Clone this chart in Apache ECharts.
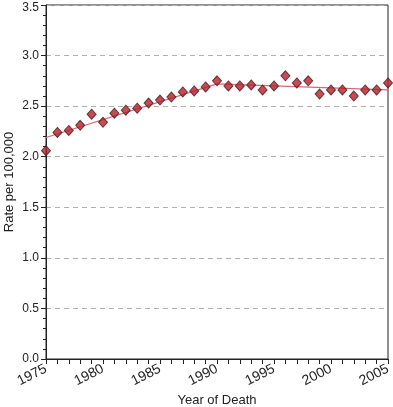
<!DOCTYPE html>
<html>
<head>
<meta charset="utf-8">
<script src="https://cdn.jsdelivr.net/npm/echarts@6/dist/echarts.min.js"></script>
<style>
html,body{margin:0;padding:0;background:#fff;}
#chart{width:393px;height:407px;}
</style>
</head>
<body>
<div id="chart"></div>
<script>
const years = [1975,1976,1977,1978,1979,1980,1981,1982,1983,1984,1985,1986,1987,1988,1989,1990,1991,1992,1993,1994,1995,1996,1997,1998,1999,2000,2001,2002,2003,2004,2005];
const rates = [2.06,2.24,2.26,2.31,2.42,2.34,2.43,2.46,2.48,2.53,2.56,2.59,2.64,2.65,2.69,2.75,2.70,2.70,2.71,2.66,2.70,2.80,2.73,2.75,2.62,2.66,2.66,2.60,2.66,2.66,2.73];
const trendYears = [1975,1990,2005];
const trendRates = [2.19,2.72,2.66];
const xTickLabels = ['1975','1980','1985','1990','1995','2000','2005'];

const chart = echarts.init(document.getElementById('chart'), null, {renderer:'canvas'});
const font = 'Liberation Sans, Arial, sans-serif';
chart.setOption({
  animation:false,
  backgroundColor:'#fff',
  grid:{left:46,right:5,top:5,bottom:48,containLabel:false,outerBoundsMode:'none',show:true,borderColor:'#222',borderWidth:1,backgroundColor:'transparent'},
  xAxis:{
    type:'value',min:1975,max:2005,interval:5,
    name:'Year of Death',nameLocation:'middle',nameGap:35,nameMoveOverlap:false,
    nameTextStyle:{fontFamily:font,fontSize:13,color:'#222'},
    axisLine:{show:true,lineStyle:{color:'#222',width:1}},
    axisTick:{show:true,length:5,inside:false,lineStyle:{color:'#222'}},
    minorTick:{show:true,splitNumber:5,length:5,lineStyle:{color:'#222'}},
    splitLine:{show:false},
    axisLabel:{fontFamily:font,fontSize:14,color:'#222',rotate:27,margin:9,
      formatter:function(v){const s=String(v);return xTickLabels.indexOf(s)>=0?s:'';}}
  },
  yAxis:{
    type:'value',min:0,max:3.5,interval:0.5,
    name:'Rate per 100,000',nameLocation:'middle',nameGap:30,nameMoveOverlap:false,
    nameTextStyle:{fontFamily:font,fontSize:13,color:'#222'},
    axisLine:{show:true,lineStyle:{color:'#222',width:1}},
    axisTick:{show:true,length:5,lineStyle:{color:'#222'}},
    minorTick:{show:true,splitNumber:5,length:3,lineStyle:{color:'#222'}},
    splitLine:{show:true,lineStyle:{color:'#b0b0b0',type:[5,4],width:1}},
    axisLabel:{fontFamily:font,fontSize:12,color:'#222',margin:7,
      formatter:function(v){return v===3.5?'{t|'+v.toFixed(1)+'}':v.toFixed(1);},
      rich:{t:{fontFamily:font,fontSize:12,color:'#222',padding:[5,0,0,0]}}}
  },
  series:[
    {type:'line',data:trendYears.map((y,i)=>[y,trendRates[i]]),showSymbol:false,symbol:'none',
     lineStyle:{color:'#d46a72',width:1.2},z:2,silent:true},
    {type:'scatter',data:years.map((y,i)=>[y,rates[i]]),symbol:'diamond',symbolSize:[9,10],
     itemStyle:{color:'#b81e2b',borderColor:'#4a1a1a',borderWidth:1},z:3}
  ]
});
</script>
</body>
</html>
